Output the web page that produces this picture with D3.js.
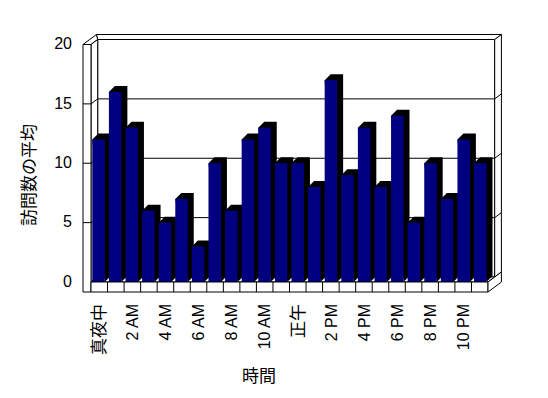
<!DOCTYPE html>
<html>
<head>
<meta charset="utf-8">
<script src="https://cdn.jsdelivr.net/npm/d3@7"></script>
<style>
  body { margin: 0; background: #fff; }
  text { font-family: "Liberation Sans", "Noto Sans CJK JP", sans-serif; fill: #000; }
  .jp { font-family: "Noto Sans CJK JP", sans-serif; }
</style>
</head>
<body>
<svg id="chart" width="548" height="398"></svg>
<script>
// hours 0..23, average visits
var hours = d3.range(24);
var visits = [12, 16, 13, 6, 5, 7, 3, 10, 6, 12, 13, 10, 10, 8, 17, 9, 13, 8, 14, 5, 10, 7, 12, 10];
var tickHours = [0, 2, 4, 6, 8, 10, 12, 14, 16, 18, 20, 22];
var tickLabels = ["真夜中", "2 AM", "4 AM", "6 AM", "8 AM", "10 AM", "正午", "2 PM", "4 PM", "6 PM", "8 PM", "10 PM"];
var yTicks = [0, 5, 10, 15, 20];

var svg = d3.select("#chart");

var left = 83, wall = 8, right = 488, floorH = 10;
var dx = 6.7, dy = -5;      // one depth step of the walls
var bdx = 6, bdy = -6;      // bar depth

var y = d3.scaleLinear().domain([0, 20]).range([282, 44.5]);
var x = d3.scaleBand().domain(hours).range([left + wall, right]);
var xb = d3.scaleBand().domain(hours).range([92.3, 486.5]).paddingInner(0.25).paddingOuter(0);

var y0 = y(0), yTop = y(20);
var line = function (pts) { return "M" + pts.map(function (p) { return p[0] + "," + p[1]; }).join("L") + "Z"; };

var g = svg.append("g").attr("fill", "#fff").attr("stroke", "#000").attr("stroke-width", 1);

// back wall front face
g.append("path").attr("d", line([[left + wall + dx, yTop + dy], [right + dx, yTop + dy], [right + dx, y0 + dy], [left + wall + dx, y0 + dy]]));
// back wall top face
g.append("path").attr("d", line([[left + wall + dx, yTop + dy], [right + dx, yTop + dy], [right + 2 * dx, yTop + 2 * dy], [left + 2 * dx, yTop + 2 * dy]]));
// back wall right face
g.append("path").attr("d", line([[right + dx, yTop + dy], [right + 2 * dx, yTop + 2 * dy], [right + 2 * dx, y0 + 2 * dy], [right + dx, y0 + dy]]));
// left wall top face
g.append("path").attr("d", line([[left, yTop], [left + wall, yTop], [left + wall + dx, yTop + dy], [left + 2 * dx, yTop + 2 * dy]]));
// left wall inner face
g.append("path").attr("d", line([[left + wall, yTop], [left + wall + dx, yTop + dy], [left + wall + dx, y0 + dy], [left + wall, y0]]));
// left wall front face
g.append("path").attr("d", line([[left, yTop], [left + wall, yTop], [left + wall, y0 + floorH], [left, y0 + floorH]]));
// floor top
g.append("path").attr("d", line([[left + wall, y0], [right, y0], [right + dx, y0 + dy], [left + wall + dx, y0 + dy]]));

// gridlines
var grid = svg.append("g").attr("stroke", "#000").attr("fill", "none");
yTicks.slice(1, 4).forEach(function (v) {
    var yy = y(v);
    grid.append("path").attr("d", "M" + left + "," + yy + "L" + (left + wall) + "," + yy +
        "L" + (left + wall + dx) + "," + (yy + dy) + "L" + (right + dx) + "," + (yy + dy) +
        "L" + (right + 2 * dx) + "," + (yy + 2 * dy));
});

// bars
var bars = svg.selectAll(".bar").data(hours).enter().append("g").attr("class", "bar");
bars.append("path")
    .attr("fill", "#000").attr("stroke", "none")
    .attr("d", function (d) {
        var x0 = xb(d), w = xb.bandwidth(), t = y(visits[d]);
        return line([[x0, t], [x0 + bdx, t + bdy], [x0 + w + bdx, t + bdy], [x0 + w + bdx, y0 + bdy], [x0 + w, y0]]);
    });
bars.append("rect")
    .attr("fill", "#000080")
    .attr("x", function (d) { return xb(d); })
    .attr("y", function (d) { return y(visits[d]); })
    .attr("width", xb.bandwidth())
    .attr("height", function (d) { return y0 - y(visits[d]); });

// floor front and right faces
g = svg.append("g").attr("fill", "#fff").attr("stroke", "#000");
g.append("path").attr("d", line([[left + wall, y0], [right, y0], [right, y0 + floorH], [left + wall, y0 + floorH]]));
g.append("path").attr("d", line([[right, y0], [right + 2 * dx, y0 + 2 * dy], [right + 2 * dx, y0 + floorH + 2 * dy], [right, y0 + floorH]]));
svg.append("g").attr("stroke", "#000").selectAll("line").data(hours.slice(1)).enter().append("line")
    .attr("x1", function (d) { return x(d); }).attr("x2", function (d) { return x(d); })
    .attr("y1", y0).attr("y2", y0 + floorH);

// value labels
svg.selectAll(".ylab").data(yTicks).enter().append("text")
    .attr("class", "ylab")
    .attr("x", 72).attr("y", function (d) { return y(d) - 1; })
    .attr("dy", "0.36em").attr("text-anchor", "end")
    .style("font-size", "16px")
    .text(function (d) { return d; });

// category labels
svg.selectAll(".xlab").data(tickHours).enter().append("text")
    .attr("class", function (d, i) { return /[A-Z]/.test(tickLabels[i]) ? "xlab" : "xlab jp"; })
    .attr("transform", function (d) { return "translate(" + (x(d) + x.bandwidth() / 2) + ",304) rotate(-90)"; })
    .attr("dy", "0.36em").attr("text-anchor", "end")
    .style("font-size", function (d, i) { return /[A-Z]/.test(tickLabels[i]) ? "16px" : "17px"; })
    .text(function (d, i) { return tickLabels[i]; });

// titles
svg.append("text").attr("class", "jp")
    .attr("transform", "translate(29,175) rotate(-90)")
    .attr("dy", "0.36em").attr("text-anchor", "middle")
    .style("font-size", "17px").text("訪問数の平均");
svg.append("text").attr("class", "jp")
    .attr("x", 259).attr("y", 376).attr("dy", "0.36em").attr("text-anchor", "middle")
    .style("font-size", "17px").text("時間");
</script>
</body>
</html>
